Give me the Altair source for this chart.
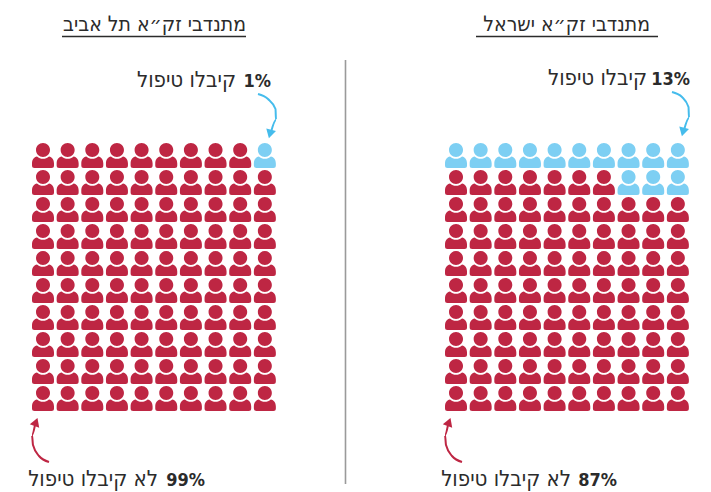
import altair as alt
import pandas as pd

FONT = "DejaVu Sans Condensed"
RED = "#BE2643"
BLUE = "#7DCFF3"
ARROW_BLUE = "#45BCEC"
INK = "#2B2B2B"

panels = ["tel_aviv", "israel"]
treated = [1, 13]
panel_shift = [0, 16.755]
n_rows = 10
n_cols = 10

titles = ["מתנדבי זק״א תל אביב", "מתנדבי זק״א ישראל"]
received = "קיבלו טיפול"
not_received = "לא קיבלו טיפול"
pct_received = ["1%", "13%"]
pct_not = ["99%", "87%"]

W, H = 695, 484
STEP_X, STEP_Y = 24.65, 27.0
X0, Y0 = 43 - 8, 155.5 - 8


def gx(px):
    return (px - 8 - X0) / STEP_X


def gy(py):
    return (py - 8 - Y0) / STEP_Y


x_scale = alt.Scale(domain=[gx(8), gx(8 + W)], range=[0, W], nice=False, zero=False)
y_scale = alt.Scale(domain=[gy(8 + H), gy(8)], range=[H, 0], nice=False, zero=False)
X = lambda f="x": alt.X(f"{f}:Q", scale=x_scale, axis=None)
Y = lambda f="y": alt.Y(f"{f}:Q", scale=y_scale, axis=None)

cells = []
for p, n, shift in zip(panels, treated, panel_shift):
    for r in range(n_rows):
        for c in range(n_cols):
            idx = r * n_cols + (n_cols - 1 - c)
            cells.append({"panel": p, "x": c + shift, "y": r, "status": "yes" if idx < n else "no"})
people = pd.DataFrame(cells)

HEAD = "M-7,-5.5 a7,7 0 1 0 14,0 a7,7 0 1 0 -14,0 Z"
BODY = ("M-6,0.9 A8.8,8.8 0 0 0 6,0.9 C9,1.4 11,4 11,8 L11,10 Q11,12.5 8.5,12.5 "
        "L-8.5,12.5 Q-11,12.5 -11,10 L-11,8 C-11,4 -9,1.4 -6,0.9 Z")
PERSON = HEAD + " " + BODY

color = alt.Color("status:N", scale=alt.Scale(domain=["yes", "no"], range=[BLUE, RED]), legend=None)
person_layer = alt.Chart(people).mark_point(
    shape=PERSON, size=4, filled=True, opacity=1, strokeWidth=0
).encode(x=X(), y=Y(), color=color)

title_df = pd.DataFrame({
    "x": [gx(246), gx(650)], "y": [gy(31), gy(31)], "t": titles})
title_layer = alt.Chart(title_df).mark_text(
    font=FONT, fontSize=21, align="right", baseline="alphabetic", color=INK
).encode(x=X(), y=Y(), text="t:N")

ul_df = pd.DataFrame({
    "x": [gx(62), gx(476)], "x2": [gx(246), gx(658)], "y": [gy(36.5), gy(36.5)]})
ul_layer = alt.Chart(ul_df).mark_rule(color=INK, strokeWidth=1.6).encode(x=X(), x2="x2:Q", y=Y())

div_df = pd.DataFrame({"x": [gx(345.5)], "y": [gy(60)], "y2": [gy(484)]})
div_layer = alt.Chart(div_df).mark_rule(color="#9A9A9A", strokeWidth=1.6).encode(x=X(), y=Y(), y2="y2:Q")

lab_df = pd.DataFrame({
    "x": [gx(236), gx(647), gx(158), gx(571)],
    "y": [gy(87), gy(85), gy(486), gy(486)],
    "t": [received, received, not_received, not_received]})
lab_layer = alt.Chart(lab_df).mark_text(
    font=FONT, fontSize=22, align="right", baseline="alphabetic", color=INK
).encode(x=X(), y=Y(), text="t:N")

pct_df = pd.DataFrame({
    "x": [gx(271), gx(690), gx(205), gx(617)],
    "y": [gy(87), gy(85), gy(486), gy(486)],
    "t": pct_received + pct_not})
pct_layer = alt.Chart(pct_df).mark_text(
    font=FONT, fontSize=18, fontWeight="bold", align="right", baseline="alphabetic", color=INK
).encode(x=X(), y=Y(), text="t:N")

arrows = {
    "a": ([258, 268, 275.5, 276, 271], [94, 99, 109, 120, 132], ARROW_BLUE),
    "b": ([672, 682, 688.5, 689, 684], [92, 97, 107, 118, 130], ARROW_BLUE),
    "c": ([49, 39, 33, 32, 35], [462, 456, 445, 435, 425], RED),
    "d": ([462, 452, 446, 445, 448], [462, 456, 445, 435, 425], RED),
}
arrow_layers = []
for k, (xs, ys, col) in arrows.items():
    d = pd.DataFrame({"x": [gx(v) for v in xs], "y": [gy(v) for v in ys], "o": range(len(xs))})
    arrow_layers.append(
        alt.Chart(d).mark_line(color=col, strokeWidth=2, interpolate="monotone").encode(
            x=X(), y=Y(), order="o:O")
    )

heads = pd.DataFrame({
    "x": [gx(270), gx(683), gx(36), gx(449)],
    "y": [gy(134), gy(132), gy(422), gy(422)],
    "a": [195, 195, 20, 20],
    "c": ["blue", "blue", "red", "red"]})
head_layer = alt.Chart(heads).mark_point(
    shape="triangle-up", size=100, filled=True, opacity=1, strokeWidth=0
).encode(
    x=X(), y=Y(), angle=alt.Angle("a:Q", scale=None),
    color=alt.Color("c:N", scale=alt.Scale(domain=["blue", "red"], range=[ARROW_BLUE, RED]), legend=None),
)

chart = alt.layer(
    person_layer, title_layer, ul_layer, div_layer, lab_layer, pct_layer, *arrow_layers, head_layer
).resolve_scale(color="independent").properties(
    width=W, height=H, padding=0, autosize=alt.AutoSizeParams(type="none"), background="white"
).configure_view(stroke=None)

chart.save("out.html", embed_options={"renderer": "svg", "actions": False})
